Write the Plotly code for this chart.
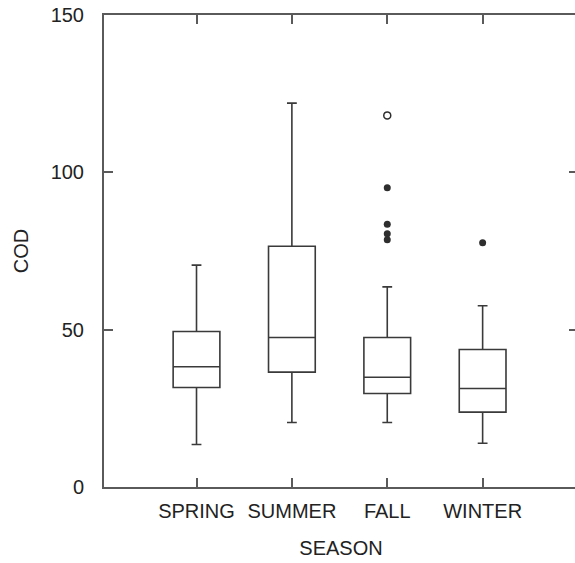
import plotly.graph_objects as go

seasons = ["SPRING", "SUMMER", "FALL", "WINTER"]
lower = [13.5, 20.5, 20.5, 13.9]
q1 = [31.6, 36.5, 29.7, 23.8]
median = [38.2, 47.5, 34.9, 31.3]
q3 = [49.4, 76.5, 47.5, 43.7]
upper = [70.5, 122.0, 63.6, 57.6]

filled_x = ["FALL", "FALL", "FALL", "FALL", "WINTER"]
filled_y = [95.1, 83.5, 80.5, 78.6, 77.6]
open_x = ["FALL"]
open_y = [118.1]

y_ticks = [0, 50, 100, 150]

line_col = "#3a3a3a"
axis_col = "#5a5a5a"
font_family = "Liberation Sans, Arial, sans-serif"

fig = go.Figure()
fig.add_trace(go.Box(
    x=seasons, q1=q1, median=median, q3=q3,
    lowerfence=lower, upperfence=upper,
    boxpoints=False, width=0.49, whiskerwidth=0.21,
    line=dict(color=line_col, width=1.6),
    fillcolor="rgba(255,255,255,0)",
    showlegend=False,
))
fig.add_trace(go.Scatter(
    x=filled_x, y=filled_y, mode="markers",
    marker=dict(color="#2e2e2e", size=7, symbol="circle"),
    showlegend=False,
))
fig.add_trace(go.Scatter(
    x=open_x, y=open_y, mode="markers",
    marker=dict(color="#2e2e2e", size=7, symbol="circle-open", line=dict(width=1.5)),
    showlegend=False,
))

fig.update_layout(
    width=583, height=563,
    margin=dict(l=104, r=3, t=15, b=76),
    paper_bgcolor="white", plot_bgcolor="white",
    font=dict(family=font_family, size=20, color="#222222"),
    showlegend=False,
)
fig.update_xaxes(
    type="category", categoryorder="array", categoryarray=seasons,
    range=[-0.97, 4.0],
    showgrid=False, zeroline=False,
    showline=True, linecolor=axis_col, linewidth=2, mirror="allticks",
    ticks="inside", ticklen=9, tickwidth=1.5, tickcolor=axis_col,
    tickfont=dict(size=20), ticklabelstandoff=5,
    title=dict(text="SEASON", font=dict(size=20), standoff=20),
)
fig.update_yaxes(
    range=[0, 150], tickvals=y_ticks,
    showgrid=False, zeroline=False,
    showline=True, linecolor=axis_col, linewidth=2, mirror="allticks",
    ticks="inside", ticklen=9, tickwidth=1.5, tickcolor=axis_col,
    tickfont=dict(size=20), ticklabelstandoff=14,
    title=dict(text="COD", font=dict(size=20), standoff=17),
)

fig.write_html("out.html", config={"displayModeBar": False},
               post_script="document.body.style.margin='0';")
